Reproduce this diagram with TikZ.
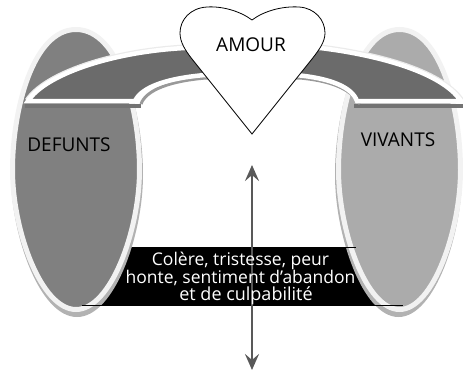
\documentclass[tikz,border=0pt]{standalone}
\usepackage{fontspec}
\setmainfont{Open Sans}
\usetikzlibrary{arrows.meta}
\newcommand{\ovalpath}{(0,29.5) .. controls (-0.68,29.5) and (-1,110) .. (-1,170)
  .. controls (-1,230) and (-0.55,309.5) .. (0,309.5)
  .. controls (0.55,309.5) and (1,230) .. (1,170)
  .. controls (1,110) and (0.68,29.5) .. (0,29.5) -- cycle}
\begin{document}
\begin{tikzpicture}[x=1pt, y=-1pt,
  lbl/.style={inner sep=0pt, font=\fontsize{#1}{#1}\selectfont},
  lbl/.default={19},
  rule/.style={draw=black, line width=0.9pt},
  halo/.style={draw=black!5, line width=5pt, fill=#1},
  under/.style={draw=black!30, fill=black!30, line width=5pt},
  >={Stealth[length=16pt, width=14pt, inset=6pt]}]
\useasboundingbox (0,0) rectangle (463,372);
% black box goes under the two ovals
\fill[black] (90,247) rectangle (390,305);
\path[under] [shift={(77,5)}, xscale=63.5] \ovalpath;
\path[under] [shift={(398.5,5)}, xscale=61] \ovalpath;
\path[halo=black!50] [shift={(76,0)}, xscale=63.5] \ovalpath;
\path[halo=black!33] [shift={(399.5,0)}, xscale=61] \ovalpath;
\coordinate (top1) at (133,247);
\coordinate (top2) at (356,247);
\coordinate (bot1) at (82,305);
\coordinate (bot2) at (403,305);
\draw[rule] (top1) -- (top2);
\draw[rule] (bot1) -- (bot2);
% band shadow, then band
\fill[black!55] (25,104) rectangle (141,108);
\fill[black!55] (354,104) rectangle (463,108);
\draw[black!40, line width=3pt] (141,104) .. controls (146,90) and (170,81) .. (206,78) -- (300,78) .. controls (330,81) and (350,88) .. (360,104);
\draw[draw=black!8, line width=7pt, line join=miter]
  (28,101) .. controls (45,75) and (110,52) .. (185,48)
  -- (320,48) .. controls (370,54) and (440,70) .. (461,101);
\draw[draw=white, line width=4.5pt, fill=black!58, line join=miter]
  (28,101) .. controls (45,75) and (110,52) .. (185,48)
  -- (320,48) .. controls (370,54) and (440,70) .. (461,101)
  -- (357,101) .. controls (352,87) and (330,78) .. (295,75)
  -- (205,75) .. controls (170,78) and (142,86) .. (135,101) -- cycle;
% heart
\draw[fill=white, line width=0.8pt, line join=miter]
  (252,20) .. controls (240,11) and (222,6) .. (207,7)
  .. controls (190,8) and (180,20) .. (180,33)
  .. controls (180,42) and (185,50) .. (192,59)
  -- (252,134) -- (312,59)
  .. controls (319,50) and (325,42) .. (325,33)
  .. controls (325,20) and (315,8) .. (299,7)
  .. controls (282,6) and (264,11) .. (252,20) -- cycle;
\node[lbl] (amour) at (251,45) {AMOUR};
\node[lbl] (defunts) at (69,145) {DEFUNTS};
\node[lbl] (vivants) at (398,140) {VIVANTS};
% arrow
\coordinate (up) at (252,165);
\coordinate (down) at (252,370);
\draw[<->, draw=black!65, fill=black!65, line width=2.8pt] (up) -- (down);
\node[lbl=17.5, text=white] (l1) at (240.5,261) {Colère, tristesse, peur};
\node[lbl=17.5, text=white] (l2) at (240.5,278) {honte, sentiment d’abandon};
\node[lbl=18, text=white] (l3) at (246,296) {et de culpabilité};
\end{tikzpicture}
\end{document}
